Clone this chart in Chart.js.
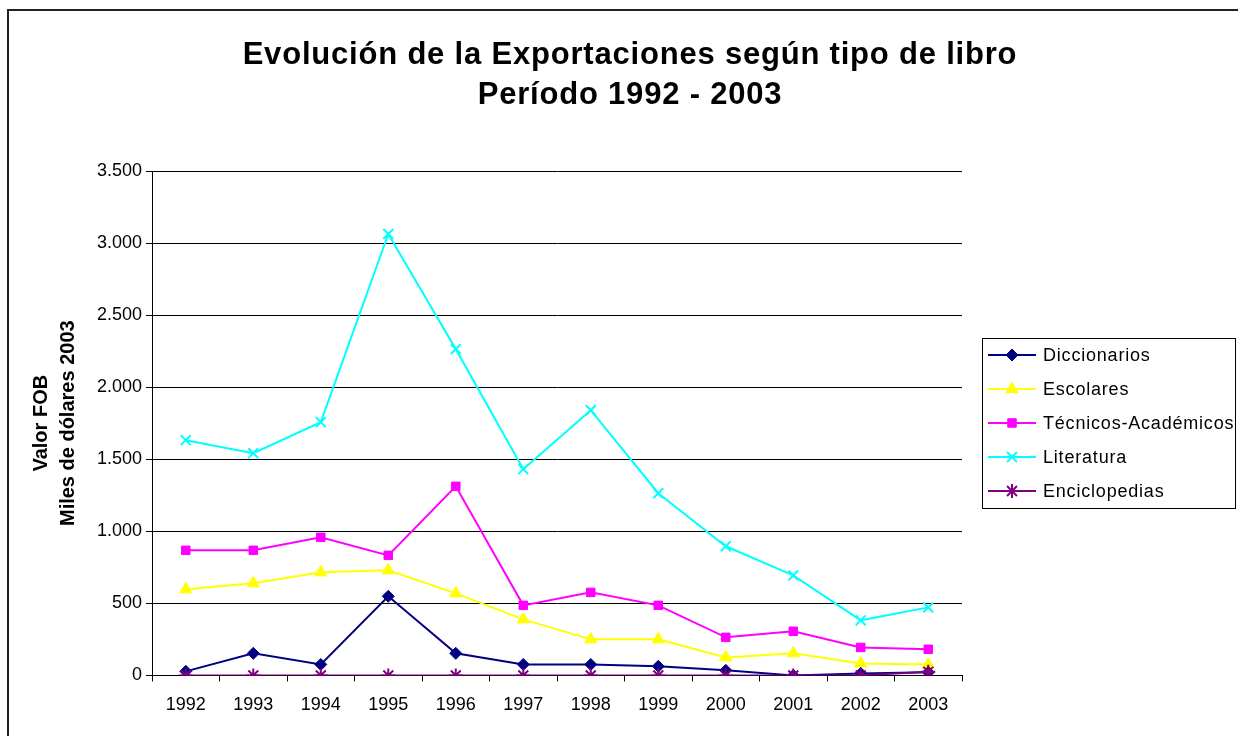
<!DOCTYPE html>
<html>
<head>
<meta charset="utf-8">
<script src="https://cdn.jsdelivr.net/npm/chart.js@4/dist/chart.umd.min.js"></script>
<style>
	html, body { margin: 0; padding: 0; background: #fff; }
	#wrap { width: 1238px; height: 736px; }
</style>
</head>
<body>
<div id="wrap"><canvas id="main_chart" width="1238" height="736"></canvas></div>
<script>
const years = ['1992', '1993', '1994', '1995', '1996', '1997', '1998', '1999', '2000', '2001', '2002', '2003'];

const diccionarios = [28, 153, 76, 549, 153, 76, 76, 63, 35, 0, 14, 21];
const escolares = [597, 639, 715, 729, 569, 389, 250, 250, 125, 153, 83, 76];
const tecnicos = [868, 868, 958, 833, 1312, 486, 576, 486, 264, 306, 194, 181];
const literatura = [1632, 1542, 1757, 3063, 2264, 1431, 1840, 1264, 896, 694, 382, 472];
const enciclopedias = [0, 0, 0, 0, 0, 0, 0, 0, 0, 0, 0, 25];

const yTicks = [0, 500, 1000, 1500, 2000, 2500, 3000, 3500];

const titleLines = ['Evolución de la Exportaciones según tipo de libro', 'Período 1992 - 2003'];

const font = "'Liberation Sans', Arial, sans-serif";

function makeSeries(label, data, color, style, radius, order) {
	return {
		label: label,
		data: data,
		borderColor: color,
		backgroundColor: color,
		borderWidth: 2,
		pointStyle: style,
		pointRadius: radius,
		pointHoverRadius: radius,
		pointBorderWidth: style == 'crossRot' || style == 'star' ? 2 : 1,
		tension: 0,
		order: order,
	};
}

const datasets = [
	makeSeries('Diccionarios', diccionarios, '#000080', 'rectRot', 6, 2),
	makeSeries('Escolares', escolares, '#FFFF00', 'triangle', 7, 3),
	makeSeries('Técnicos-Académicos', tecnicos, '#FF00FF', 'rect', 6, 4),
	makeSeries('Literatura', literatura, '#00FFFF', 'crossRot', 7, 5),
	makeSeries('Enciclopedias', enciclopedias, '#800080', 'star', 7, 1),
];

function fmt(v) {
	return String(v).replace(/\B(?=(\d{3})+(?!\d))/g, '.');
}

// frame, title and the boxed legend on the right
const extras = {
	id: 'extras',
	afterDraw(chart) {
		const c = chart.ctx;
		c.save();
		c.strokeStyle = '#222';
		c.lineWidth = 2;
		c.strokeRect(8, 10, 1400, 900);

		c.fillStyle = '#000';
		c.font = 'bold 31px ' + font;
		c.letterSpacing = '0.8px';
		c.textAlign = 'center';
		c.textBaseline = 'middle';
		c.fillText(titleLines[0], 630, 55);
		c.fillText(titleLines[1], 630, 95);

		const bx = 982.5, by = 338.5, bw = 253, bh = 170;
		c.lineWidth = 1;
		c.strokeStyle = '#000';
		c.fillStyle = '#fff';
		c.fillRect(bx, by, bw, bh);
		c.strokeRect(bx, by, bw, bh);

		c.font = '18px ' + font;
		c.letterSpacing = '0.8px';
		c.textAlign = 'left';
		chart.data.datasets.forEach((ds, i) => {
			const y = 355 + i * 34;
			c.strokeStyle = ds.borderColor;
			c.lineWidth = 2;
			c.beginPath();
			c.moveTo(988, y);
			c.lineTo(1036, y);
			c.stroke();
			c.fillStyle = ds.backgroundColor;
			c.lineWidth = ds.pointBorderWidth;
			Chart.helpers.drawPoint(c, {
				pointStyle: ds.pointStyle,
				radius: ds.pointRadius,
				rotation: 0,
				borderWidth: ds.pointBorderWidth,
			}, 1012, y);
			c.fillStyle = '#000';
			c.fillText(ds.label, 1043, y + 1);
		});
		c.restore();
	}
};

new Chart(document.getElementById('main_chart'), {
	type: 'line',
	data: {
		labels: years,
		datasets: datasets,
	},
	options: {
		responsive: false,
		animation: false,
		layout: {
			padding: { top: 171, right: 276, bottom: 7, left: 28 },
		},
		plugins: {
			legend: { display: false },
			tooltip: { enabled: false },
			title: { display: false },
		},
		scales: {
			x: {
				offset: true,
				grid: {
					drawOnChartArea: false,
					drawTicks: true,
					tickLength: 6,
					color: '#000',
					offset: true,
				},
				border: { color: '#000' },
				ticks: {
					color: '#000',
					padding: 13,
					maxRotation: 0,
					font: { size: 18, family: font },
				},
			},
			y: {
				min: 0,
				max: 3500,
				afterBuildTicks(axis) {
					axis.ticks = yTicks.map(v => ({ value: v }));
				},
				grid: {
					color: '#000',
					drawTicks: true,
					tickLength: 6,
				},
				border: { color: '#000' },
				ticks: {
					color: '#000',
					padding: 4,
					font: { size: 18, family: font },
					callback: v => fmt(v),
				},
				title: {
					display: true,
					text: ['Valor FOB', 'Miles de dólares 2003'],
					color: '#000',
					font: { size: 20, family: font, weight: 'bold', lineHeight: 1.35 },
					padding: { top: 0, bottom: 11 },
				},
			},
		},
	},
	plugins: [extras],
});
</script>
</body>
</html>
